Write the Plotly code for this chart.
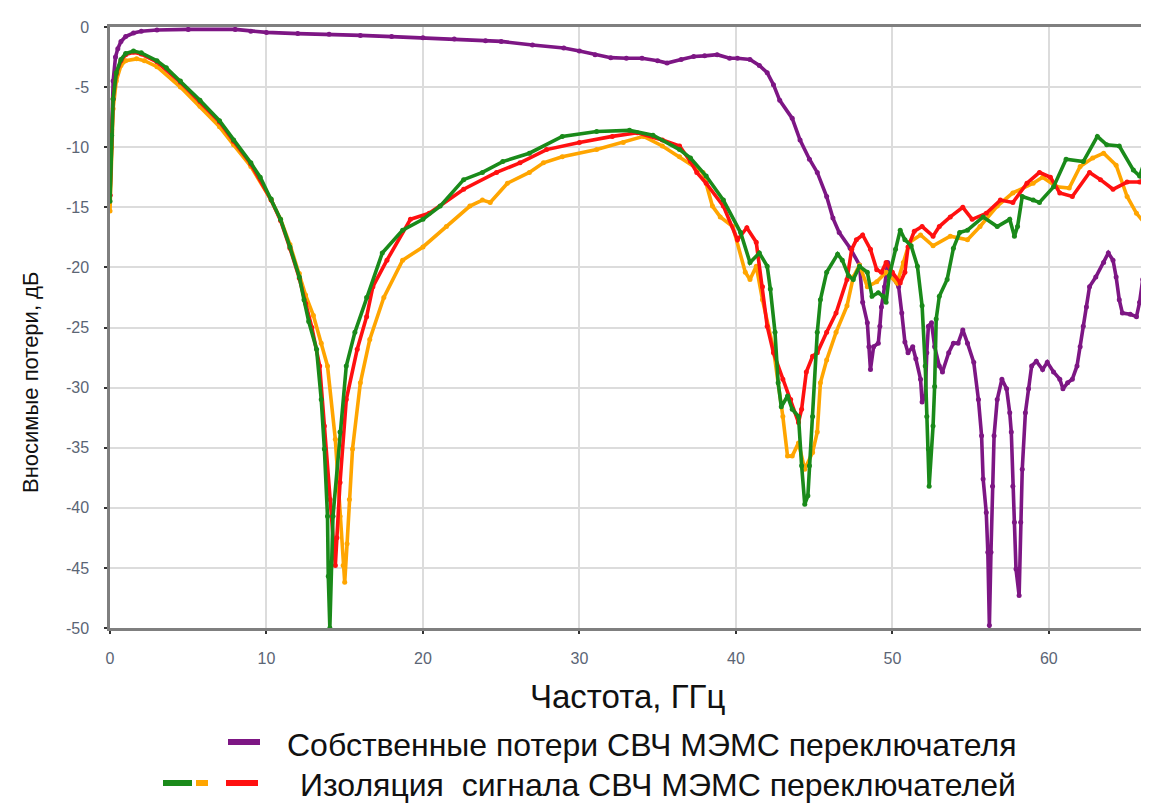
import plotly.graph_objects as go

# ---------------- data ----------------
purple_x = [0, 0.1, 0.2, 0.35, 0.5, 0.7, 1.0, 1.5, 2.0, 3.0, 5.0, 8.0, 9.0, 10, 12, 14, 16, 18, 20, 22, 24, 25,
            27, 29, 30, 31, 32, 33, 34, 35, 35.6, 36.5, 37.3, 38, 38.8, 39.6, 40.1, 40.9, 41.5, 42.0, 42.4, 42.8,
            43.6, 44.1, 44.7, 45.2, 45.8, 46.2, 46.6, 47.3, 47.9, 48.1, 48.4, 48.5, 48.6, 48.8, 49.1, 49.2, 49.3,
            49.5, 49.7, 50.0, 50.4, 50.6, 50.8, 51.0, 51.3, 51.5, 51.8, 51.9, 52.1, 52.2, 52.3, 52.5, 52.7, 53.0,
            53.2, 53.6, 53.9, 54.2, 54.5, 54.8, 55.2, 55.5, 55.7, 55.8, 56.0, 56.1, 56.2, 56.3, 56.4, 56.5, 56.7,
            57.0, 57.3, 57.5, 57.6, 57.7, 57.8, 57.9, 58.1, 58.2, 58.3, 58.5, 58.7, 58.9, 59.2, 59.6, 59.9, 60.3,
            60.7, 60.9, 61.2, 61.5, 61.8, 62.0, 62.2, 62.4, 62.6, 63.0, 63.5, 63.8, 64.1, 64.3, 64.5, 64.7, 65.2,
            65.6, 65.8, 66.0, 66.3]
purple_y = [-14, -8.5, -4.5, -2.5, -1.8, -1.2, -0.8, -0.5, -0.35, -0.25, -0.2, -0.2, -0.35, -0.45, -0.55, -0.6,
            -0.7, -0.8, -0.9, -1.0, -1.15, -1.2, -1.5, -1.75, -2.0, -2.3, -2.55, -2.6, -2.6, -2.8, -3.0, -2.7,
            -2.45, -2.4, -2.3, -2.6, -2.6, -2.7, -3.2, -3.8, -4.8, -6.1, -7.6, -9.4, -11.0, -12.1, -14.1, -15.9,
            -17.1, -18.4, -19.8, -22.9, -24.6, -26.6, -28.5, -26.6, -26.3, -24.9, -23.3, -21.6, -19.6, -20.8,
            -21.6, -23.8, -26.2, -27.1, -26.6, -27.6, -29.3, -31.2, -30.7, -27.1, -24.9, -24.6, -26.6, -28.2,
            -28.7, -27.1, -26.3, -26.3, -25.2, -26.3, -27.9, -31.0, -34.0, -37.6, -40.4, -43.7, -49.8, -43.7,
            -38.2, -34.0, -31.0, -29.3, -30.1, -32.1, -33.7, -38.2, -41.2, -45.1, -47.3, -41.2, -36.8, -32.1,
            -30.1, -28.2, -27.8, -28.5, -27.9, -28.7, -29.3, -30.1, -29.6, -29.3, -28.2, -26.6, -24.9, -23.3,
            -21.6, -20.8, -19.6, -18.8, -19.4, -20.8, -22.7, -23.8, -23.9, -24.1, -22.9, -21.0, -19.4]

green_x = [0, 0.1, 0.2, 0.4, 0.7, 1.0, 1.5, 2.0, 3.0, 3.6, 4.5, 5.75, 7.0, 7.9, 9.0, 9.6, 10.3, 10.9, 11.5, 12.1,
           12.4, 12.7, 13.2, 13.5, 13.7, 13.9, 13.95, 14.05, 14.25, 14.7, 15.1, 15.65, 16.4, 17.4, 18.7, 20.0,
           21.1, 22.6, 23.8, 25.1, 26.8, 28.9, 31.1, 33.2, 34.7, 36.4, 37.1, 38.1, 39.2, 40.3, 40.9, 41.5, 42.0,
           42.2, 42.5, 42.7, 42.9, 43.3, 43.6, 44.0, 44.2, 44.4, 44.6, 44.7, 44.9, 45.2, 45.4, 45.8, 46.5, 46.8,
           47.2, 47.5, 47.9, 48.4, 48.7, 49.1, 49.4, 49.6, 49.8, 50.2, 50.5, 50.8, 51.2, 51.6, 51.9, 52.1, 52.2,
           52.3, 52.35, 52.6, 52.7, 52.8, 53.0, 53.5, 53.9, 54.3, 54.8, 55.8, 56.7, 57.5, 57.8, 58.0, 58.3, 59.0,
           59.4, 60.3, 61.1, 62.2, 63.1, 63.7, 64.5, 65.4, 65.8, 66.3]
green_y = [-14.5, -9, -6, -3.8, -2.7, -2.2, -2.0, -2.15, -2.8, -3.4, -4.5, -6.1, -7.8, -9.4, -11.3, -12.5, -14.3,
           -16.0, -18.3, -20.8, -22.7, -24.5, -26.8, -31.0, -35.1, -40.7, -45.7, -50.0, -40.7, -33.7, -28.2,
           -25.4, -22.5, -18.8, -16.9, -16.0, -14.9, -12.7, -12.1, -11.2, -10.5, -9.1, -8.7, -8.6, -9.0, -10.2,
           -10.9, -12.4, -14.4, -17.1, -19.6, -18.8, -19.9, -21.8, -25.4, -29.6, -31.6, -30.7, -31.8, -32.4,
           -36.5, -39.7, -39.0, -36.5, -32.4, -25.4, -22.7, -20.4, -18.9, -19.4, -20.7, -21.0, -19.9, -20.4,
           -22.4, -22.1, -22.4, -22.9, -20.7, -18.5, -16.9, -17.7, -18.2, -19.9, -23.2, -28.2, -32.4, -35.1,
           -38.2, -33.2, -29.9, -24.3, -22.4, -21.0, -18.4, -17.1, -16.9, -15.8, -16.6, -16.0, -17.4, -16.6,
           -14.1, -14.4, -14.6, -13.3, -11.0, -11.2, -9.1, -9.8, -9.9, -11.9, -12.4, -10.5]

red_x = [0, 0.1, 0.2, 0.4, 0.7, 1.0, 1.5, 2.0, 3.0, 4.5, 5.75, 7.0, 7.9, 9.0, 10.3, 10.9, 11.5, 12.1, 12.5, 12.9,
         13.4, 13.7, 14.06, 14.3, 14.4, 14.5, 14.7, 15.1, 15.8, 16.4, 16.8, 17.7, 19.2, 20.4, 22.6, 24.7, 26.2,
         27.9, 30.0, 32.1, 33.7, 35.3, 36.4, 37.1, 37.5, 38.1, 39.2, 40.1, 40.7, 41.3, 41.7, 42.0, 42.4, 43.0,
         43.5, 44.0, 44.2, 44.5, 44.9, 45.2, 45.8, 46.4, 47.1, 47.4, 47.7, 48.1, 48.6, 49.0, 49.3, 49.6, 50.0,
         50.5, 50.8, 51.0, 51.4, 51.9, 52.6, 53.0, 53.7, 54.5, 55.1, 56.0, 56.9, 57.7, 58.6, 59.4, 60.1, 60.7,
         61.5, 62.6, 63.3, 64.1, 65.0, 65.8, 66.4]
red_y = [-14, -9, -6, -3.9, -2.8, -2.3, -2.1, -2.25, -2.9, -4.6, -6.2, -7.9, -9.5, -11.4, -14.4, -16.1, -18.4,
         -20.9, -23.0, -25.0, -28.2, -33.2, -39.3, -43.5, -44.8, -42.5, -37.9, -31.0, -26.8, -24.1, -21.6,
         -19.4, -16.0, -15.5, -13.5, -12.1, -11.3, -10.2, -9.6, -9.1, -8.8, -9.4, -9.9, -11.2, -12.1, -13.0,
         -14.9, -17.7, -16.7, -17.9, -21.6, -24.9, -27.1, -29.3, -31.0, -32.9, -31.8, -28.7, -27.4, -27.1,
         -25.4, -23.8, -21.0, -18.5, -17.7, -17.3, -18.5, -20.2, -20.4, -19.6, -20.4, -21.3, -20.4, -18.3,
         -17.0, -16.6, -17.4, -16.6, -15.8, -15.0, -16.0, -15.5, -14.4, -14.6, -13.0, -12.1, -12.5, -13.8,
         -14.1, -12.1, -12.7, -13.5, -12.9, -12.9, -12.3]

orange_x = [0, 0.1, 0.2, 0.4, 0.7, 1.0, 1.7, 2.2, 3.0, 4.5, 5.75, 7.0, 7.9, 9.0, 10.3, 10.9, 11.5, 12.1, 12.5,
            13.0, 13.5, 13.9, 14.4, 14.7, 14.9, 15.0, 15.15, 15.3, 15.5, 16.0, 16.6, 17.5, 18.7, 20.0, 21.5,
            23.0, 23.8, 24.3, 25.4, 26.8, 27.7, 28.9, 31.1, 32.8, 34.1, 35.3, 36.4, 37.9, 38.5, 39.0, 39.8,
            40.6, 40.9, 41.3, 41.7, 42.4, 43.0, 43.3, 43.6, 44.0, 44.4, 44.9, 45.2, 45.4, 45.8, 46.4, 47.1,
            47.5, 47.9, 48.4, 49.0, 49.6, 50.3, 50.7, 51.1, 51.8, 52.6, 53.7, 54.8, 55.6, 56.7, 57.7, 59.0,
            59.6, 60.5, 61.3, 62.0, 62.8, 63.5, 64.3, 65.0, 65.6, 66.3]
orange_y = [-15.3, -10, -6.8, -4.5, -3.2, -2.8, -2.65, -2.8, -3.3, -5.0, -6.6, -8.3, -9.8, -11.6, -14.4, -16.0,
            -18.1, -20.5, -22.3, -24.0, -26.3, -28.2, -34.3, -40.7, -44.8, -46.2, -43.0, -39.3, -35.1, -29.6,
            -26.0, -22.5, -19.4, -18.3, -16.6, -14.9, -14.4, -14.6, -13.0, -12.1, -11.3, -10.8, -10.2, -9.6,
            -9.1, -9.9, -10.8, -12.1, -14.9, -15.8, -16.6, -20.4, -21.0, -19.9, -22.7, -26.8, -32.4, -35.7,
            -35.7, -34.6, -36.8, -35.4, -33.7, -29.6, -27.7, -25.4, -23.2, -20.8, -19.8, -21.6, -21.2, -20.4,
            -21.3, -19.6, -17.9, -17.3, -18.2, -17.4, -17.7, -16.6, -14.9, -13.8, -13.0, -12.5, -13.3, -13.4,
            -11.6, -10.9, -10.5, -11.5, -14.1, -15.5, -16.6]

x_ticks = [0, 10, 20, 30, 40, 50, 60]
x_tick_labels = ["0", "10", "20", "30", "40", "50", "60"]
y_ticks = [0, -5, -10, -15, -20, -25, -30, -35, -40, -45, -50]
y_tick_labels = ["0", "-5", "-10", "-15", "-20", "-25", "-30", "-35", "-40", "-45", "-50"]

x_title = "Частота, ГГц"
y_title = "Вносимые потери, дБ"
legend_texts = ["Собственные потери СВЧ МЭМС переключателя",
                "Изоляция  сигнала СВЧ МЭМС переключателей"]

PURPLE = "#7d1684"
GREEN = "#1a8a1a"
ORANGE = "#ffa500"
RED = "#ff1010"

fig = go.Figure()


def add(x, y, color):
    fig.add_trace(go.Scatter(
        x=x, y=y, mode="lines+markers",
        line=dict(color=color, width=3.6),
        marker=dict(color=color, size=5),
        showlegend=False, cliponaxis=True))


add(purple_x, purple_y, PURPLE)
add(orange_x, orange_y, ORANGE)
add(red_x, red_y, RED)
add(green_x, green_y, GREEN)

tick_font = dict(family="Liberation Sans, Arial", size=16, color="#5b6575")
axis_col = "#7f7f7f"

fig.update_xaxes(range=[0, 66.4], tickvals=x_ticks, ticktext=x_tick_labels, showgrid=True,
                 gridcolor="#dcdcdc", gridwidth=1.5,
                 showline=True, linecolor=axis_col, linewidth=2.5, mirror=True, zeroline=False,
                 ticks="outside", ticklen=3, tickcolor="#333333", tickwidth=2,
                 tickfont=tick_font, ticklabelstandoff=11)
fig.update_yaxes(range=[-50, 0], tickvals=y_ticks, ticktext=y_tick_labels, showgrid=True,
                 gridcolor="#dcdcdc", gridwidth=1.5,
                 showline=True, linecolor=axis_col, linewidth=2.5, zeroline=False,
                 ticks="outside", ticklen=3, tickcolor="#333333", tickwidth=2,
                 tickfont=tick_font, ticklabelstandoff=12)

# page body has an 8px margin: the figure is laid out in screen coordinates minus 8
OFF = 8
W, H = 1149 - OFF, 807 - OFF
L, R, T = 110 - OFF, 0, 27 - OFF
B = H - (628 - OFF)
pw, ph = W - L - R, H - T - B


def px(xs):
    return (xs - OFF - L) / pw


def py(ys):
    return (H - B - (ys - OFF)) / ph


ann = []
ann.append(dict(text=y_title, x=px(30), y=py(342), xref="paper", yref="paper", showarrow=False,
                textangle=-90, xanchor="center", yanchor="middle", yshift=-41,
                font=dict(family="Liberation Sans, Arial", size=22, color="#111111")))
ann.append(dict(text=x_title, x=px(627), y=py(697), xref="paper", yref="paper", showarrow=False,
                xanchor="center", yanchor="middle",
                font=dict(family="Liberation Sans, Arial", size=33, color="#111111")))
ann.append(dict(text=legend_texts[0], x=px(285), y=py(745), xref="paper", yref="paper", showarrow=False,
                xanchor="left", yanchor="middle",
                font=dict(family="Liberation Sans, Arial", size=32, color="#111111")))
ann.append(dict(text=legend_texts[1], x=px(298), y=py(785), xref="paper", yref="paper", showarrow=False,
                xanchor="left", yanchor="middle",
                font=dict(family="Liberation Sans, Arial", size=32, color="#111111")))

shapes = []
for (x0, x1, yy, c) in [(228, 260, 742, PURPLE), (163, 192, 783, GREEN), (196, 208, 783, ORANGE),
                        (226, 258, 783, RED)]:
    shapes.append(dict(type="line", xref="paper", yref="paper", x0=px(x0), x1=px(x1), y0=py(yy), y1=py(yy),
                       line=dict(color=c, width=6)))

fig.update_layout(width=W, height=H, margin=dict(l=L, r=R, t=T, b=B), paper_bgcolor="white",
                  plot_bgcolor="white", annotations=ann, shapes=shapes, showlegend=False)

fig.write_html("out.html")
